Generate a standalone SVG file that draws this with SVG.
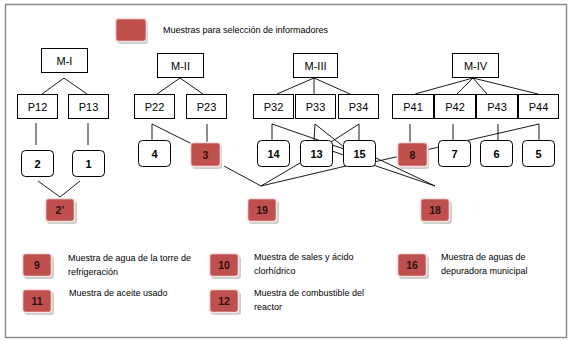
<svg xmlns="http://www.w3.org/2000/svg" width="575" height="341" viewBox="0 0 575 341">
<defs>
<style>
.bg{fill:#ffffff}
.frame{fill:none;stroke:#8c8c8c;stroke-width:1.5}
.sq{fill:#ffffff;stroke:#000000;stroke-width:1}
.rd{fill:#ffffff;stroke:#000000;stroke-width:1}
.red{fill:#C0504D;stroke:#F6E3E3;stroke-width:1.6}
.sh{fill:#b8b8b8;opacity:0.7}
.lbl{font-family:"Liberation Sans",Arial,sans-serif;font-size:11px;fill:#000;text-anchor:middle}
.num{font-family:"Liberation Sans",Arial,sans-serif;font-size:11px;font-weight:bold;fill:#000;text-anchor:middle}
.rnum{font-family:"Liberation Sans",Arial,sans-serif;font-size:10.5px;font-weight:bold;fill:#2a1010;text-anchor:middle}
.leg{font-family:"Liberation Sans",Arial,sans-serif;font-size:9px;fill:#000}
.ln{fill:none;stroke:#000;stroke-width:0.9}
</style>
</defs>
<rect class="bg" x="0" y="0" width="575" height="341"/>
<rect class="frame" x="5.5" y="4.5" width="561" height="333"/>

<g id="connectors">
<line class="ln" x1="64" y1="78" x2="42" y2="94"/>
<line class="ln" x1="64" y1="78" x2="87" y2="94"/>
<line class="ln" x1="180" y1="78" x2="157" y2="94"/>
<line class="ln" x1="180" y1="78" x2="203" y2="94"/>
<line class="ln" x1="314" y1="78" x2="277" y2="94"/>
<line class="ln" x1="314" y1="78" x2="314" y2="94"/>
<line class="ln" x1="314" y1="78" x2="350" y2="94"/>
<line class="ln" x1="473" y1="78" x2="415" y2="94"/>
<line class="ln" x1="473" y1="78" x2="457" y2="94"/>
<line class="ln" x1="473" y1="78" x2="487" y2="94"/>
<line class="ln" x1="473" y1="78" x2="538" y2="94"/>

<line class="ln" x1="36" y1="123" x2="36" y2="145"/>
<line class="ln" x1="88" y1="123" x2="88" y2="145"/>
<line class="ln" x1="38" y1="181" x2="60" y2="197"/>
<line class="ln" x1="80" y1="181" x2="60" y2="197"/>

<line class="ln" x1="152" y1="124" x2="152" y2="142"/>
<line class="ln" x1="152" y1="124" x2="192" y2="144"/>
<line class="ln" x1="207" y1="124" x2="207" y2="144"/>
<line class="ln" x1="224" y1="166" x2="261" y2="186"/>
<line class="ln" x1="300" y1="163" x2="261" y2="186"/>
<line class="ln" x1="346" y1="166" x2="261" y2="186"/>

<line class="ln" x1="272" y1="124" x2="272" y2="141"/>
<line class="ln" x1="272" y1="124" x2="344" y2="149"/>
<line class="ln" x1="315" y1="124" x2="314" y2="141"/>
<line class="ln" x1="315" y1="124" x2="344" y2="147"/>
<line class="ln" x1="359" y1="124" x2="359" y2="141"/>
<line class="ln" x1="359" y1="124" x2="331" y2="142"/>

<line class="ln" x1="410" y1="124" x2="410" y2="144"/>
<line class="ln" x1="453" y1="124" x2="453" y2="141"/>
<line class="ln" x1="498" y1="124" x2="498" y2="141"/>
<line class="ln" x1="539" y1="124" x2="539" y2="141"/>
<line class="ln" x1="539" y1="124" x2="374" y2="162"/>
<line class="ln" x1="374" y1="157" x2="435" y2="186"/>
<line class="ln" x1="332" y1="151" x2="435" y2="186"/>
</g>

<g id="legend-top">
<rect class="sh" x="117" y="21" width="31" height="23" rx="3"/>
<rect class="red" x="115.5" y="18.5" width="31" height="23" rx="3"/>
<text class="leg" x="163" y="33">Muestras para selección de informadores</text>
</g>

<g id="M-I"><rect class="sq" x="41.5" y="48.5" width="46" height="24"/><text class="lbl" x="64.5" y="64.5">M-I</text></g>
<g id="M-II"><rect class="sq" x="157.5" y="53.5" width="46" height="24"/><text class="lbl" x="180.5" y="69.5">M-II</text></g>
<g id="M-III"><rect class="sq" x="293.5" y="53.5" width="44" height="24"/><text class="lbl" x="315.5" y="69.5">M-III</text></g>
<g id="M-IV"><rect class="sq" x="452.5" y="53.5" width="46" height="24"/><text class="lbl" x="475.5" y="69.5">M-IV</text></g>

<g id="P12"><rect class="sq" x="17.5" y="94.5" width="40" height="24"/><text class="lbl" x="37.5" y="110.5">P12</text></g>
<g id="P13"><rect class="sq" x="68.5" y="94.5" width="40" height="24"/><text class="lbl" x="88.5" y="110.5">P13</text></g>
<g id="P22"><rect class="sq" x="134.5" y="94.5" width="40" height="24"/><text class="lbl" x="154.5" y="110.5">P22</text></g>
<g id="P23"><rect class="sq" x="186.5" y="94.5" width="40" height="24"/><text class="lbl" x="206.5" y="110.5">P23</text></g>
<g id="P32"><rect class="sq" x="253.5" y="94.5" width="40" height="24"/><text class="lbl" x="273.5" y="110.5">P32</text></g>
<g id="P33"><rect class="sq" x="295.5" y="94.5" width="40" height="24"/><text class="lbl" x="315.5" y="110.5">P33</text></g>
<g id="P34"><rect class="sq" x="338.5" y="94.5" width="40" height="24"/><text class="lbl" x="358.5" y="110.5">P34</text></g>
<g id="P41"><rect class="sq" x="392.5" y="94.5" width="41" height="24"/><text class="lbl" x="413" y="110.5">P41</text></g>
<g id="P42"><rect class="sq" x="434.5" y="94.5" width="41" height="24"/><text class="lbl" x="455" y="110.5">P42</text></g>
<g id="P43"><rect class="sq" x="476.5" y="94.5" width="41" height="24"/><text class="lbl" x="497" y="110.5">P43</text></g>
<g id="P44"><rect class="sq" x="518.5" y="94.5" width="40" height="24"/><text class="lbl" x="538.5" y="110.5">P44</text></g>

<g id="n2"><rect class="rd" x="21.5" y="150.5" width="32" height="26" rx="4"/><text class="num" x="37.5" y="167.5">2</text></g>
<g id="n1"><rect class="rd" x="72.5" y="150.5" width="32" height="26" rx="4"/><text class="num" x="88.5" y="167.5">1</text></g>
<g id="n4"><rect class="rd" x="138.5" y="140.5" width="32" height="26" rx="4"/><text class="num" x="154.5" y="157.5">4</text></g>
<g id="n14"><rect class="rd" x="257.5" y="140.5" width="32" height="26" rx="4"/><text class="num" x="273.5" y="157.5">14</text></g>
<g id="n13"><rect class="rd" x="300.5" y="140.5" width="32" height="26" rx="4"/><text class="num" x="316.5" y="157.5">13</text></g>
<g id="n15"><rect class="rd" x="343.5" y="140.5" width="32" height="26" rx="4"/><text class="num" x="359.5" y="157.5">15</text></g>
<g id="n7"><rect class="rd" x="438.5" y="140.5" width="32" height="26" rx="4"/><text class="num" x="454.5" y="157.5">7</text></g>
<g id="n6"><rect class="rd" x="480.5" y="140.5" width="32" height="26" rx="4"/><text class="num" x="496.5" y="157.5">6</text></g>
<g id="n5"><rect class="rd" x="522.5" y="140.5" width="32" height="26" rx="4"/><text class="num" x="538.5" y="157.5">5</text></g>

<g id="n3"><rect class="sh" x="192" y="145" width="30" height="24" rx="3"/><rect class="red" x="190.5" y="142.5" width="30" height="24" rx="3"/><text class="rnum" x="205.5" y="158.5">3</text></g>
<g id="n8"><rect class="sh" x="399" y="145" width="30" height="24" rx="3"/><rect class="red" x="397.5" y="142.5" width="30" height="24" rx="3"/><text class="rnum" x="412.5" y="158.5">8</text></g>
<g id="n2p"><rect class="sh" x="47" y="201" width="30" height="23" rx="3"/><rect class="red" x="45.5" y="198.5" width="29" height="23" rx="3"/><text class="rnum" x="60" y="214">2’</text></g>
<g id="n19"><rect class="sh" x="249" y="201" width="30" height="23" rx="3"/><rect class="red" x="247.5" y="198.5" width="29" height="23" rx="3"/><text class="rnum" x="262" y="214">19</text></g>
<g id="n18"><rect class="sh" x="422" y="201" width="30" height="23" rx="3"/><rect class="red" x="420.5" y="198.5" width="29" height="23" rx="3"/><text class="rnum" x="435" y="214">18</text></g>

<g id="leg9"><rect class="sh" x="24" y="256" width="30" height="23" rx="3"/><rect class="red" x="22.5" y="253.5" width="29" height="23" rx="3"/><text class="rnum" x="37" y="269">9</text>
<text class="leg" x="68" y="261">Muestra de agua de la torre de</text><text class="leg" x="68" y="274.5">refrigeración</text></g>
<g id="leg11"><rect class="sh" x="24" y="292" width="30" height="23" rx="3"/><rect class="red" x="22.5" y="289.5" width="29" height="23" rx="3"/><text class="rnum" x="37" y="305">11</text>
<text class="leg" x="69" y="296">Muestra de aceite usado</text></g>
<g id="leg10"><rect class="sh" x="211" y="256" width="30" height="23" rx="3"/><rect class="red" x="209.5" y="253.5" width="29" height="23" rx="3"/><text class="rnum" x="224" y="269">10</text>
<text class="leg" x="254" y="260">Muestra de sales y ácido</text><text class="leg" x="254" y="274">clorhídrico</text></g>
<g id="leg12"><rect class="sh" x="211" y="292" width="30" height="23" rx="3"/><rect class="red" x="209.5" y="289.5" width="29" height="23" rx="3"/><text class="rnum" x="224" y="305">12</text>
<text class="leg" x="254" y="296">Muestra de combustible del</text><text class="leg" x="254" y="309.5">reactor</text></g>
<g id="leg16"><rect class="sh" x="399" y="256" width="30" height="23" rx="3"/><rect class="red" x="397.5" y="253.5" width="29" height="23" rx="3"/><text class="rnum" x="412" y="269">16</text>
<text class="leg" x="441" y="260">Muestra de aguas de</text><text class="leg" x="441" y="274">depuradora municipal</text></g>
</svg>
